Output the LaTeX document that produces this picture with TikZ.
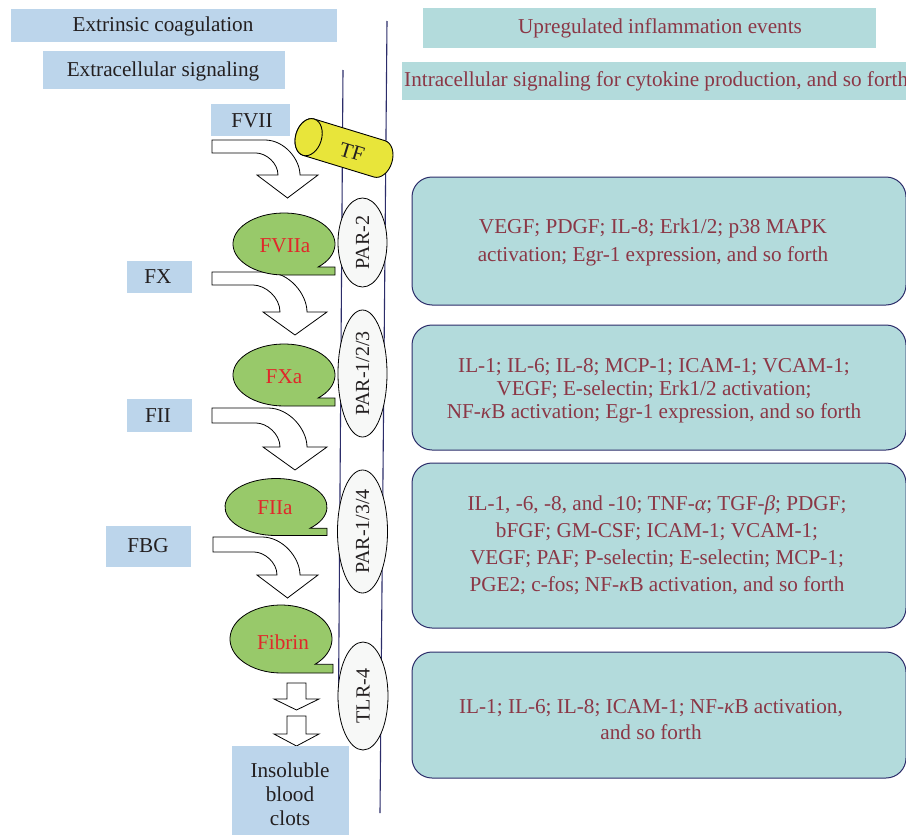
\documentclass[tikz,border=0pt]{standalone}
\usepackage{fontspec}
\setmainfont{Liberation Serif}
\usetikzlibrary{shapes.geometric}
\definecolor{lblue}{HTML}{BCD5EB}
\definecolor{teal}{HTML}{B3DBDC}
\definecolor{maroon}{HTML}{8B3746}
\definecolor{gfill}{HTML}{98C96A}
\definecolor{yfill}{HTML}{E8E53A}
\definecolor{pfill}{HTML}{F7F8F7}
\definecolor{navy}{HTML}{2C2D6A}
\definecolor{dtext}{HTML}{231F20}
\definecolor{rtext}{HTML}{E0282A}
\newcommand\blobshape[5]{%
  \filldraw[blob] (#1,#2+#4) -- (#5,#2+#4) -- (#5,{#2+#4*sin(48)}) -- ({#1+#3*cos(48)},{#2+#4*sin(48)}) arc[start angle=48, end angle=-270, x radius=#3, y radius=#4] -- cycle;}
\newcommand\bentarr[9]{%
  \filldraw[hollow] (#1,#2) -- ({#5-(#6-#2)},#2) .. controls ({#5-0.45*(#6-#2)},#2) and (#5,{#2+0.55*(#6-#2)}) .. (#5,#6) -- (#8,#6) -- ({(#7+#8)/2},#9) -- (#7,#6) -- (#4,#6) .. controls (#4,{#3+0.45*(#6-#3)}) and ({#4-0.55*(#6-#3)},#3) .. ({#4-(#6-#3)},#3) -- (#1,#3) -- cycle;}
\newcommand\downarr[3]{%
  \filldraw[hollow] (287,#1) -- (306,#1) -- (306,#2) -- (319,#2) -- (296.5,#3) -- (274,#2) -- (287,#2) -- cycle;}
\begin{document}
\begin{tikzpicture}[x=1pt,y=-1pt,
  lbl/.style={fill=lblue, draw=none, inner sep=0pt},
  hbox/.style={fill=teal, draw=none, inner sep=0pt},
  txt/.style={font=\fontsize{21.2}{24}\selectfont, inner sep=0pt, text=dtext},
  mtxt/.style={font=\fontsize{21.2}{#1}\selectfont, inner sep=0pt, text=maroon, align=center},
  rbox/.style={draw=navy, fill=teal, rounded corners=20pt, line width=1pt, inner sep=0pt},
  par/.style={ellipse, draw=black, fill=pfill, line width=0.8pt, inner sep=0pt, text=dtext, font=\fontsize{20}{24}\selectfont},
  membrane/.style={draw=navy, line width=1.1pt},
  hollow/.style={draw=black, fill=white, line width=0.8pt, line join=miter},
  blob/.style={draw=black, fill=gfill, line width=0.8pt},
  gtxt/.style={font=\fontsize{21.2}{24}\selectfont, inner sep=0pt, text=rtext}]
\useasboundingbox (0,0) rectangle (906,835);
\fill[white] (0,0) rectangle (906,835);

% membrane lines
\coordinate (m1a) at (343,70);
\coordinate (m1b) at (338.5,700);
\coordinate (m2a) at (387,21);
\coordinate (m2b) at (380,813);
\draw[membrane] (m1a) -- (m1b);
\draw[membrane] (m2a) -- (m2b);

% left headers
\node[lbl, minimum width=326, minimum height=33] (extbox) at (174,25.5) {};
\node[txt] (ext) at (163,26) {Extrinsic coagulation};
\node[lbl, minimum width=242, minimum height=38] (ecsbox) at (164,70) {};
\node[txt] (ecs) at (163,71) {Extracellular signaling};

% factor labels
\node[lbl, minimum width=79, minimum height=32] (fviibox) at (250.5,120) {};
\node[txt] (fvii) at (252,121) {FVII};
\node[lbl, minimum width=65, minimum height=32] (fxbox) at (159.5,277) {};
\node[txt] (fx) at (158,277) {FX};
\node[lbl, minimum width=65, minimum height=33] (fiibox) at (159.5,415.5) {};
\node[txt] (fii) at (158,416) {FII};
\node[lbl, minimum width=85, minimum height=41] (fbgbox) at (148.5,546.5) {};
\node[txt] (fbg) at (148,546) {FBG};

% bent arrows
\bentarr{212}{140}{153}{278}{300}{175}{257}{318}{198}
\bentarr{212}{272}{285}{280}{307}{312}{263}{327}{335}
\bentarr{212}{408}{423}{280}{307}{447}{263}{327}{470}
\bentarr{213}{537}{552}{277}{300}{575}{257}{318}{598}

% straight arrows
\downarr{683}{699}{710}
\downarr{716}{734}{746}

% green blobs
\blobshape{284}{244}{51}{31}{335}
\node[gtxt] (fviia) at (285,246) {FVIIa};
\blobshape{284}{375}{51}{31}{335}
\node[gtxt] (fxa) at (284,377) {FXa};
\blobshape{276}{507}{51}{28.5}{327}
\node[gtxt] (fiia) at (275,508) {FIIa};
\blobshape{281}{639}{51}{34}{333}
\node[gtxt] (fibrin) at (283,642) {Fibrin};

% clots box
\node[lbl, minimum width=117, minimum height=90] (clotbox) at (290.5,791) {};
\node[txt, align=center, font=\fontsize{21.2}{24}\selectfont] (clots) at (290,794) {Insoluble\\blood\\clots};

% TF cylinder
\begin{scope}[shift={(344,148)}, rotate=-17]
  \filldraw[draw=black, fill=yfill, line width=0.9pt] (-37,-19) -- (37,-19) arc[start angle=-90, end angle=90, x radius=13, y radius=19] -- (-37,19) arc[start angle=90, end angle=270, x radius=13, y radius=19] -- cycle;
  \filldraw[draw=black, fill=yfill, line width=0.9pt] (-37,0) ellipse [x radius=13, y radius=19];
\end{scope}
\node[txt, rotate=-17] (tf) at (352,152) {TF};

% receptors
\node[par, rotate=90, minimum width=89, minimum height=49] (par2) at (362.5,242.5) {PAR-2};
\node[par, rotate=90, minimum width=127, minimum height=49] (par123) at (362.5,373.5) {PAR-1/2/3};
\node[par, rotate=90, minimum width=123, minimum height=50] (par134) at (362.5,531.5) {PAR-1/3/4};
\node[par, rotate=90, minimum width=108, minimum height=50] (tlr4) at (363,696) {TLR-4};

% right headers
\node[hbox, minimum width=453, minimum height=40] (upbox) at (649.5,28) {};
\node[mtxt=24] (up) at (660,28) {Upregulated inflammation events};
\fill[teal] (402,62) rectangle (906,100);
\node[mtxt=24, anchor=west] (intra) at (404,81) {Intracellular signaling for cytokine production, and so forth};

% right event boxes
\node[rbox, minimum width=494, minimum height=128] (b1) at (659,241) {};
\node[mtxt=28] (t1) at (653,242) {VEGF; PDGF; IL-8; Erk1/2; p38 MAPK\\activation; Egr-1 expression, and so forth};
\node[rbox, minimum width=494, minimum height=125] (b2) at (659,387.5) {};
\node[mtxt=23] (t2) at (654,390.5) {IL-1; IL-6; IL-8; MCP-1; ICAM-1; VCAM-1;\\VEGF; E-selectin; Erk1/2 activation;\\NF-\textit{κ}B activation; Egr-1 expression, and so forth};
\node[rbox, minimum width=494, minimum height=165] (b3) at (659,545.5) {};
\node[mtxt=27] (t3) at (657,545) {IL-1, -6, -8, and -10; TNF-\textit{α}; TGF-\textit{β}; PDGF;\\bFGF; GM-CSF; ICAM-1; VCAM-1;\\VEGF; PAF; P-selectin; E-selectin; MCP-1;\\PGE2; c-fos; NF-\textit{κ}B activation, and so forth};
\node[rbox, minimum width=494, minimum height=126] (b4) at (659,715) {};
\node[mtxt=26] (t4) at (651,720) {IL-1; IL-6; IL-8; ICAM-1; NF-\textit{κ}B activation,\\and so forth};
\end{tikzpicture}
\end{document}
